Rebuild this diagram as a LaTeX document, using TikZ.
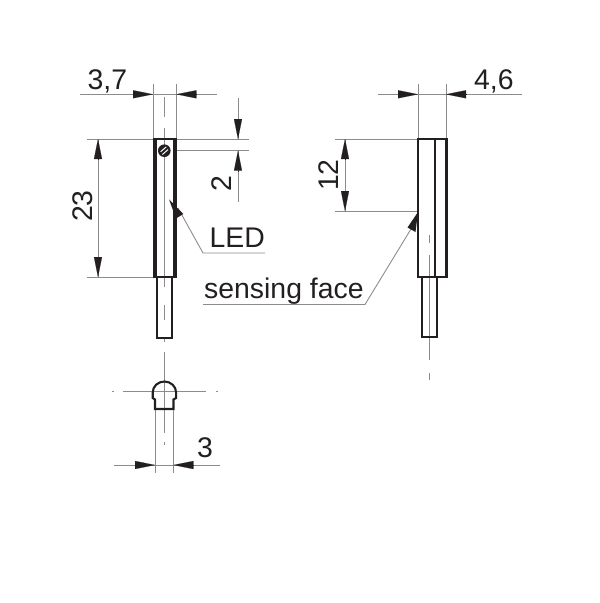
\documentclass[tikz,border=0pt]{standalone}
\usepackage{fontspec}
\setmainfont{Liberation Sans}
\usetikzlibrary{arrows.meta}
\definecolor{ink}{HTML}{231F20}
\definecolor{thin}{HTML}{8C8C8C}
\tikzset{
  x=1pt,y=-1pt,
  thinline/.style={draw=thin,line width=0.9pt},
  centerline/.style={draw=thin,line width=0.8pt},
  outline/.style={draw=ink,line width=2.1pt,line join=miter},
  arrowhead/.style={draw=ink,line width=0.1pt,-{Triangle[length=20pt,width=8pt,color=ink]}},
  label/.style={inner sep=0pt,text=ink,font=\fontsize{28.4}{32}\selectfont},
}
\begin{document}
\begin{tikzpicture}
\useasboundingbox (0,0) rectangle (600,603);
% named points: left view
\coordinate (LT) at (153,139);
\coordinate (RT) at (176.5,139);
\coordinate (Lscrew) at (176.5,150.7);
\coordinate (LB) at (153,277);
% thin extension and dimension lines - left view
\draw[thinline] (153,84) -- (153,139);
\draw[thinline] (176.3,84) -- (176.3,139);
\draw[thinline] (80,94.3) -- (217,94.3);
\draw[arrowhead] (132.5,94.3) -- (153,94.3);
\draw[arrowhead] (196.5,94.3) -- (176.3,94.3);
\draw[thinline] (87,139) -- (248.5,139);
\draw[thinline] (Lscrew) -- (248.5,150.7);
\draw[thinline] (238,98) -- (238,139);
\draw[thinline] (238,150.7) -- (238,202);
\draw[arrowhead] (238,118.5) -- (238,139);
\draw[arrowhead] (238,171.5) -- (238,150.7);
\draw[thinline] (98,139) -- (98,277);
\draw[arrowhead] (98,159) -- (98,139);
\draw[arrowhead] (98,256.5) -- (98,277);
\draw[thinline] (87,277) -- (153,277);
% centre line - left view
\draw[centerline] (164.5,97) -- (164.5,117);
\draw[centerline] (164.5,128) -- (164.5,287);
\draw[centerline] (164.5,305) -- (164.5,320);
\draw[centerline] (164.5,339) -- (164.5,342);
% left body
\draw[outline] (157.3,277) rectangle (171.7,337.7);
\fill[ink] (152.5,138) rectangle (157.3,278);
\fill[ink] (172.6,138) rectangle (177,278);
\fill[ink] (152.5,138) rectangle (177,140);
\fill[ink] (152.5,276) rectangle (177,278);
\draw[centerline] (164.5,140) -- (164.5,276);
% screw
\fill[ink] (164.3,150.7) circle (6.3);
\draw[white,line width=1pt] (160.6,151.8) -- (166.2,146.9);
\draw[white,line width=1pt] (162.4,154.5) -- (168,149.6);
% LED leader
\coordinate (LEDknee) at (203,253);
\draw[thinline] (265,253) -- (LEDknee) -- (178,208);
\fill[ink] (169,199.3) -- (183.3,214) -- (176,218.5) -- cycle;
\node[label,anchor=base west] (led) at (209.5,247) {LED};
% sensing face leader
\node[label,anchor=base west] (sensing) at (204,298) {sensing face};
\coordinate (SFknee) at (365,304.5);
\draw[thinline] (203,304.5) -- (SFknee) -- (411,229);
\fill[ink] (418,212) -- (415.5,232) -- (407.5,227.5) -- cycle;
% dimension texts - left view
\node[label,anchor=base west] (d37) at (87.5,89) {3,7};
\node[label,rotate=90] (d23) at (82.5,206) {23};
\node[label,rotate=90] (d2) at (222,184) {2};
% right view
\draw[thinline] (418,84) -- (418,139);
\draw[thinline] (446,84) -- (446,139);
\draw[thinline] (378,94.3) -- (522,94.3);
\draw[arrowhead] (397.5,94.3) -- (418,94.3);
\draw[arrowhead] (466.5,94.3) -- (446,94.3);
\draw[thinline] (335,139) -- (418,139);
\draw[thinline] (335,211) -- (418,211);
\draw[thinline] (345,139) -- (345,211);
\draw[arrowhead] (345,159.5) -- (345,139);
\draw[arrowhead] (345,190.5) -- (345,211);
\node[label,anchor=base west] (d46) at (474,89) {4,6};
\node[label,rotate=90] (d12) at (329,175) {12};
% centre line - right view
\draw[centerline] (429.3,235) -- (429.3,243);
\draw[centerline] (429.3,255) -- (429.3,360);
\draw[centerline] (429.3,373) -- (429.3,380);
% right body
\draw[outline] (418.3,139) rectangle (446.5,276.7);
\draw[outline] (435.3,139) -- (435.3,276.7);
\draw[outline] (422.3,276.7) rectangle (436.7,337.3);
% end view
\draw[thinline] (123,391.7) -- (206,391.7);
\draw[thinline] (112,391.7) -- (114,391.7);
\draw[thinline] (216,391.7) -- (218,391.7);
\draw[thinline] (164.4,352) -- (164.4,433);
\draw[thinline] (164.4,442) -- (164.4,445);
\draw[thinline] (155,408) -- (155,473);
\draw[thinline] (173.3,408) -- (173.3,473);
\draw[thinline] (114,465) -- (220,465);
\draw[arrowhead] (134.5,465) -- (155,465);
\draw[arrowhead] (193.8,465) -- (173.3,465);
\draw[outline] (155,409) -- (155,399.5) -- (152.7,398) -- (152.7,392.5)
  arc[start angle=180,end angle=360,x radius=11.7,y radius=11] -- (176.1,398) -- (173.5,399.5) -- (173.5,409) -- cycle;
\node[label,anchor=base west] (d3) at (197,457) {3};
\end{tikzpicture}
\end{document}
